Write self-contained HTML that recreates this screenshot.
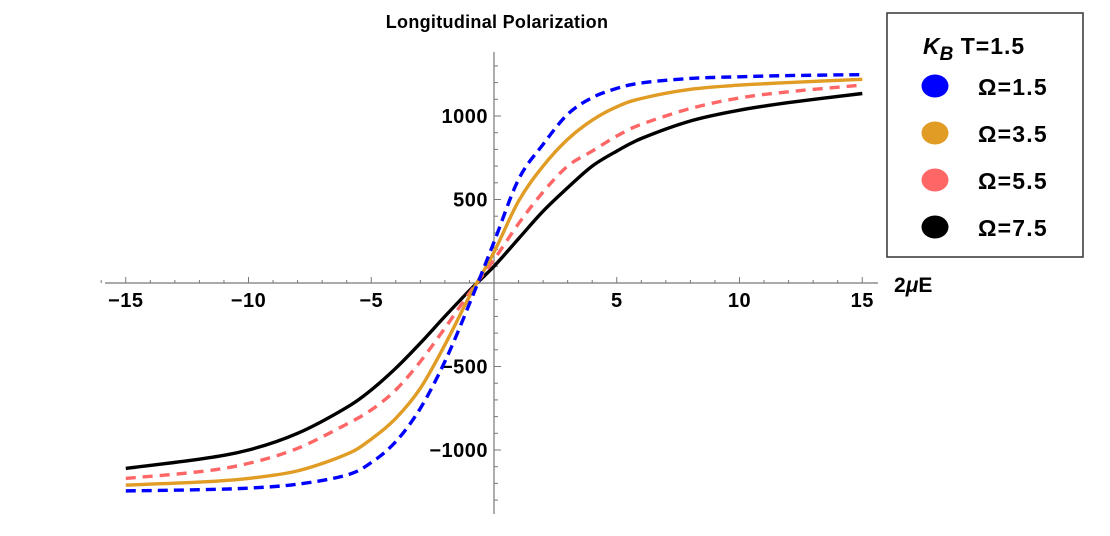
<!DOCTYPE html>
<html><head><meta charset="utf-8"><style>
body{margin:0;background:#fff;width:1110px;height:531px;overflow:hidden}
svg{font-family:"Liberation Sans",sans-serif;font-weight:bold}
</style></head><body>
<svg id="c" width="1110" height="531">
<text x="497" y="28" text-anchor="middle" font-size="18" letter-spacing="0.3">Longitudinal Polarization</text>
<g id="axes"></g>
<g id="series"></g>
<text x="894" y="292" font-size="21">2<tspan font-style="italic">μ</tspan>E</text>
<g>
<rect x="887" y="13" width="196" height="244" fill="#fff" stroke="#333" stroke-width="1.5"/>
<text x="923" y="54" font-size="23"><tspan font-style="italic">K</tspan><tspan font-style="italic" font-size="19" dy="6">B</tspan><tspan dy="-6" letter-spacing="1"> T=1.5</tspan></text>
<g id="leg"></g>
</g>
</svg>
<script>
const xs=[-15,-12,-10,-8,-6,-5,-4,-3,-2,-1,0,1,2,3,4,5,6,8,10,12,15];
const blueVals=[-1245,-1238,-1228,-1205,-1150,-1075,-950,-750,-470,-125,245,620,830,1010,1110,1165,1198,1225,1235,1242,1248];
const orangeVals=[-1210,-1192,-1170,-1125,-1025,-935,-810,-630,-370,-80,185,490,700,860,975,1055,1105,1160,1185,1200,1220];
const pinkVals=[-1170,-1130,-1080,-990,-845,-760,-640,-470,-270,-60,140,355,545,700,790,880,950,1045,1108,1145,1185];
const blackVals=[-1110,-1055,-1000,-900,-745,-640,-510,-360,-200,-45,100,265,430,570,700,790,865,970,1035,1080,1135];
const xTicks=[-15,-10,-5,5,10,15];
const yTicks=[-1000,-500,500,1000];
const legendLabels=["Ω=1.5","Ω=3.5","Ω=5.5","Ω=7.5"];
const NS="http://www.w3.org/2000/svg";
const X=v=>494+v*24.55, Y=v=>283-v*0.167;
function mk(t,a,p){const e=document.createElementNS(NS,t);for(const k in a)e.setAttribute(k,a[k]);p.appendChild(e);return e;}
const ax=document.getElementById('axes');
let l=mk('line',{x1:105,y1:283,x2:878,y2:283,stroke:'#777','stroke-width':1.2},ax);


l=mk('line',{x1:494,y1:52,x2:494,y2:514,stroke:'#777','stroke-width':1.2},ax);


for(let v=-16;v<=15;v++){const len=v%5===0?6:3;mk('line',{x1:X(v),y1:283,x2:X(v),y2:283-len,stroke:'#777'},ax);}
for(let v=-1300;v<=1300;v+=100){if(v===0)continue;const len=v%500===0?7:4;mk('line',{x1:494,y1:Y(v),x2:494+len,y2:Y(v),stroke:'#777'},ax);}
xTicks.forEach(v=>{const t=mk('text',{x:X(v),y:307,'text-anchor':'middle','font-size':20,'letter-spacing':'0.5'},ax);t.textContent=(v<0?'−':'')+Math.abs(v);

});
yTicks.forEach(v=>{const t=mk('text',{x:488,y:Y(v)+7,'text-anchor':'end','font-size':20,'letter-spacing':'0.5'},ax);t.textContent=(v<0?'−':'')+Math.abs(v);

});
function smooth(P){let d='M'+P[0][0].toFixed(1)+','+P[0][1].toFixed(1);
for(let i=0;i<P.length-1;i++){const p0=P[i-1]||P[i],p1=P[i],p2=P[i+1],p3=P[i+2]||P[i+1];
const c1=[p1[0]+(p2[0]-p0[0])/6,p1[1]+(p2[1]-p0[1])/6],c2=[p2[0]-(p3[0]-p1[0])/6,p2[1]-(p3[1]-p1[1])/6];
d+=' C'+c1.map(n=>n.toFixed(1))+' '+c2.map(n=>n.toFixed(1))+' '+p2.map(n=>n.toFixed(1));}
return d;}
const sg=document.getElementById('series');
const series=[[blackVals,'#000','',"series-omega-7-5"],[pinkVals,'#ff6666','10,7',"series-omega-5-5"],[orangeVals,'#e09c25','',"series-omega-3-5"],[blueVals,'#0000ff','10,6',"series-omega-1-5"]];
series.forEach(s=>{const P=xs.map((x,i)=>[X(x),Y(s[0][i])]);
const p=mk('path',{d:smooth(P),fill:'none',stroke:s[1],'stroke-width':3.4,'stroke-linejoin':'round'},sg);
if(s[2])p.setAttribute('stroke-dasharray',s[2]);

});
const lg=document.getElementById('leg');const cols=['#0000ff','#e09c25','#ff6666','#000'];
legendLabels.forEach((t,i)=>{const cy=86+i*47;
const c=mk('ellipse',{cx:935,cy:cy,rx:13.5,ry:11.5,fill:cols[i]},lg);


const tx=mk('text',{x:978,y:cy+9,'font-size':23,'letter-spacing':'1.2'},lg);tx.textContent=t;

});
</script>
</body></html>
